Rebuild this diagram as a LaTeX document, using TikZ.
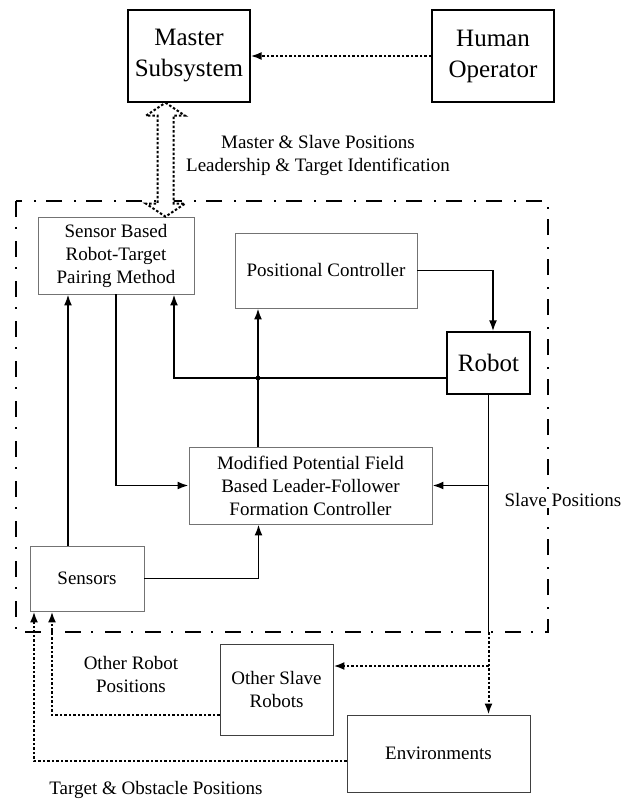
\documentclass[tikz,border=0pt]{standalone}
\usepackage{fontspec}
\setmainfont{Liberation Serif}
\usetikzlibrary{positioning, arrows.meta}
\tikzstyle{block}=[draw=black!55,line width=0.9pt,fill=white,rectangle,align=center,inner sep=0pt]
\tikzstyle{bigblock}=[draw,line width=1.3pt,fill=white,rectangle,align=center,inner sep=0pt,font=\fontsize{25}{31}\selectfont]
\tikzstyle{every node}=[font=\fontsize{19}{23}\selectfont]
\tikzstyle{sig}=[line width=1.9pt]
\tikzstyle{dotsig}=[line width=2pt,dash pattern=on 2.5pt off 2pt]
\tikzstyle{frame}=[line width=1.9pt,dash pattern=on 16pt off 10pt on 2pt off 12pt]

\begin{document}
\begin{tikzpicture}[>={Latex[length=11pt,width=8pt]}, x=1pt, y=-1pt]
            \useasboundingbox (0,0) rectangle (621,802);
            % slave side frame
            \coordinate (ftl) at (16,201);
            \coordinate (fbr) at (548,632);
            \draw[frame] (ftl) rectangle (fbr);
            \node[bigblock, minimum width=122pt, minimum height=92pt] (master) at (189,56) {Master\\Subsystem};
            \node[bigblock, right of=master, node distance=304pt, minimum width=122pt, minimum height=92pt] (human) {Human\\Operator};
            \node[block, minimum width=156pt, minimum height=77pt] (pairing) at (116,255.5) {Sensor Based\\Robot-Target\\Pairing Method};
            \node[block, minimum width=182pt, minimum height=75pt] (positional) at (326,270.5) {Positional Controller};
            \node[bigblock, minimum width=83pt, minimum height=62pt] (robot) at (488.5,363) {Robot};
            \node[block, minimum width=243pt, minimum height=77pt] (mpf) at (310.5,485.5) {Modified Potential Field\\Based Leader-Follower\\Formation Controller};
            \node[block, minimum width=114pt, minimum height=65pt] (sensors) at (87,578.5) {Sensors};
            \node[block, draw=black!75, minimum width=113pt, minimum height=91pt] (others) at (276.5,689.5) {Other Slave\\Robots};
            \node[block, draw=black!75, minimum width=183pt, minimum height=77pt] (env) at (438.5,753.5) {Environments};
            \node[align=center] (lblmaster) at (318,155.5) {Master \& Slave Positions\\Leadership \& Target Identification};
            \node[fill=white, inner sep=1pt] (lblslave) at (563,500) {Slave Positions};
            \node[align=center] (lblother) at (131,674.5) {Other Robot\\Positions};
            \node (lbltarget) at (156,790) {Target \& Obstacle Positions};
            % master link
            \draw[dotsig,->] (human) -- (master);
            \draw[dotsig, fill=white] ([xshift=-23.5pt]master.south) -- ++(19.5,13) -- ++(-11.5,0) -- ++(0,88) -- ++(11.5,0)
                -- ++(-19.5,13) -- ++(-19.5,-13) -- ++(11.5,0) -- ++(0,-88) -- ++(-11.5,0) -- cycle;
            % inner loop
            \coordinate (rl) at ([yshift=-15pt]robot.west);
            \coordinate (mt) at ([xshift=-52.5pt]mpf.north);
            \coordinate (st) at ([xshift=-19pt]sensors.north);
            \draw[sig,->] (positional) -| ([xshift=4.5pt]robot.north);
            \draw[sig,->] (rl) -| ([xshift=58pt]pairing.south);
            \draw[sig,->] (mt) -- (mt |- positional.south);
            \fill (mt |- rl) circle (2.4pt);
            \draw[sig,->] (st) -- (st |- pairing.south);
            \draw[sig,->] (pairing.south) |- (mpf.west);
            \draw[sig] (robot.south) -- (robot.south |- fbr);
            \draw[sig,->] (robot.south |- mpf.east) -- (mpf.east);
            \draw[sig,->] (sensors.east) -| ([xshift=-52pt]mpf.south);
            % outside
            \draw[dotsig,->] (robot.south |- fbr) -- (robot.south |- env.north);
            \draw[dotsig,->] (robot.south |- others.east) ++(0,-23.5) -- ([yshift=23.5pt]others.east);
            \draw[dotsig,->] ([yshift=-25.5pt]others.west) -| ([xshift=-35pt]sensors.south);
            \draw[dotsig,->] ([yshift=-7.5pt]env.west) -| ([xshift=-53pt]sensors.south);
        \end{tikzpicture}
\end{document}
